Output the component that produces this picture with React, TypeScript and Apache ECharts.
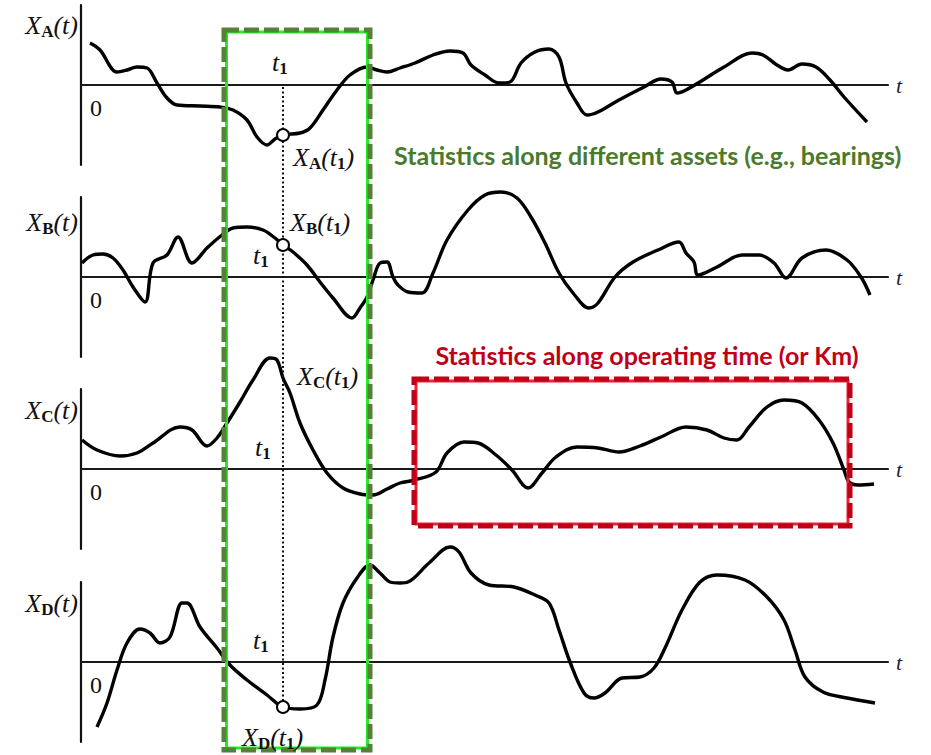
import React, { useEffect, useRef } from "react";
import * as echarts from "echarts";

// ---------- data (t in arbitrary time units, X in arbitrary amplitude units) ----------
const T_MAX = 80.7;
const T1 = 20.2;
const panelLetters = ["A", "B", "C", "D"];

const curveA: [number, number][] = [
  [0.9, 4.2], [1.9, 3.5], [3.6, 1.3], [4.6, 1.5], [5.6, 1.8], [6.6, 1.7], [7.6, 0.2], [8.6, -1.3],
  [9.6, -2.0], [11.9, -2.1], [13.9, -2.2], [15.2, -2.5], [16.6, -3.5], [17.6, -5.2], [18.6, -6.0],
  [19.4, -5.4], [20.2, -5.0], [21.9, -4.8], [22.9, -4.3], [24.2, -2.5], [25.6, -0.5], [26.9, 1.0],
  [28.6, 1.8], [29.6, 1.5], [30.6, 1.3], [31.9, 1.7], [33.4, 2.2], [35.2, 3.0], [36.9, 3.4],
  [38.2, 3.2], [39.0, 2.0], [40.4, 1.0], [41.8, 0.2], [42.9, 0.3], [44.0, 2.2], [45.4, 3.3],
  [46.8, 3.6], [47.8, 2.8], [48.5, 0.2], [49.6, -1.8], [50.6, -3.0], [51.7, -2.7], [53.8, -1.5],
  [56.3, -0.2], [58.0, 0.6], [59.1, 0.3], [59.6, -0.8], [60.5, -0.5], [62.2, 0.5], [64.3, 1.8],
  [67.1, 3.2], [68.2, 3.0], [69.6, 2.0], [70.7, 1.5], [72.1, 2.1], [73.5, 1.8], [74.9, 0.5],
  [76.3, -1.2], [78.6, -3.7],
];

const curveB: [number, number][] = [
  [0.1, 1.4], [1.2, 2.2], [2.2, 2.3], [3.2, 1.9], [4.2, 0.7], [5.2, -1.0], [6.4, -2.5], [7.2, 1.4],
  [8.6, 2.2], [9.7, 4.0], [11.1, 1.4], [12.6, 2.9], [14.1, 4.2], [15.2, 4.9], [16.6, 5.0],
  [18.2, 4.7], [19.4, 3.9], [20.2, 3.2], [21.2, 2.5], [22.6, 1.2], [23.9, -0.5], [25.2, -2.1],
  [27.1, -4.1], [27.9, -3.1], [28.6, -2.0], [29.2, -0.3], [29.9, 1.4], [30.6, 1.5], [31.2, 0.0],
  [31.7, -0.8], [32.7, -1.5], [34.1, -1.6], [35.2, 0.4], [36.6, 3.7], [38.7, 6.7], [40.4, 8.2],
  [42.0, 8.5], [43.6, 7.9], [45.0, 6.0], [46.4, 3.4], [47.8, 0.4], [49.2, -1.6], [50.8, -3.1],
  [51.7, -2.6], [53.4, 0.0], [55.2, 1.5], [57.7, 2.7], [59.8, 3.5], [60.5, 2.4], [61.3, 1.5],
  [61.7, 0.2], [63.6, 1.0], [66.1, 2.2], [67.8, 2.2], [69.3, 1.4], [70.5, -0.1], [72.1, 1.9],
  [74.5, 2.7], [76.6, 1.7], [78.0, 0.0], [78.9, -1.8],
];

const curveC: [number, number][] = [
  [0.1, 2.9], [1.6, 1.9], [3.9, 1.3], [5.6, 1.6], [7.2, 2.6], [9.9, 4.2], [11.1, 3.9], [12.6, 2.3],
  [13.6, 3.1], [14.6, 4.6], [15.9, 6.7], [17.2, 8.9], [18.9, 11.1], [19.6, 10.9], [20.2, 9.1],
  [20.9, 7.6], [21.9, 4.6], [23.2, 1.9], [24.6, -0.4], [26.2, -1.9], [27.9, -2.5], [29.2, -2.6],
  [30.6, -2.0], [31.9, -1.4], [33.4, -1.1], [35.5, -0.3], [36.6, 1.6], [38.3, 2.7], [39.7, 2.6],
  [41.5, 1.4], [43.1, -0.1], [44.7, -1.9], [46.1, -0.4], [47.5, 1.2], [49.6, 2.2], [51.7, 2.1],
  [53.8, 1.7], [55.9, 2.3], [58.0, 3.2], [60.5, 4.2], [62.6, 3.9], [64.3, 3.1], [65.6, 2.9],
  [66.8, 4.2], [68.6, 6.2], [70.3, 6.9], [72.1, 6.6], [73.8, 4.9], [75.2, 2.6], [76.3, -0.1],
  [76.8, -1.3], [77.7, -1.6], [79.3, -1.5],
];

const curveD: [number, number][] = [
  [1.6, -6.5], [2.6, -4.1], [3.6, -0.8], [4.6, 1.9], [5.9, 3.3], [6.9, 2.9], [7.9, 1.9], [8.9, 2.5],
  [10.1, 5.9], [10.6, 5.9], [11.9, 3.5], [13.6, 1.4], [14.9, -0.3], [16.6, -1.8], [18.6, -3.3],
  [20.2, -4.5], [21.9, -4.7], [23.6, -4.3], [24.4, -1.8], [25.2, 2.5], [26.2, 5.9], [27.6, 8.4],
  [28.9, 9.7], [29.9, 8.9], [30.9, 8.0], [31.9, 7.9], [32.7, 8.0], [34.8, 9.9], [36.9, 11.5],
  [37.8, 11.0], [39.0, 8.9], [40.8, 7.7], [43.3, 7.5], [45.4, 6.7], [46.8, 5.9], [47.8, 3.2],
  [48.9, 0.0], [50.3, -3.1], [51.3, -3.6], [52.4, -3.1], [54.1, -1.6], [55.9, -1.5], [57.3, -0.6],
  [58.4, 1.4], [60.1, 5.2], [61.9, 8.0], [63.6, 8.7], [66.4, 8.2], [68.6, 6.5], [70.3, 4.2],
  [71.4, 1.2], [72.4, -1.5], [74.2, -3.0], [76.6, -3.6], [79.4, -4.1],
];

const curves = [curveA, curveB, curveC, curveD];
const t1Values = [-5.0, 3.2, 9.1, -4.5];

const greenCaption = "Statistics along different assets (e.g., bearings)";
const redCaption = "Statistics along operating time (or Km)";

// ---------- layout ----------
const GRID_LEFT = 81;
const GRID_WIDTH = 807;
const HALF_H = 80;
const axisRowsPx = [85, 277, 469, 662];
const yLabelYs = [25, 222, 410, 603];
const t1LabelPos: [number, number][] = [[272, 62], [253, 255], [255, 447], [253, 640]];
const xt1LabelPos: [number, number][] = [[293, 157], [290, 222], [297, 376], [242, 737]];

const SERIF = "'Liberation Serif', 'DejaVu Serif', serif";
const SANS = "Lato, 'Open Sans', sans-serif";

const rich = {
  i: { fontFamily: SERIF, fontStyle: "italic", fontSize: 26, lineHeight: 30, fill: "#111", color: "#111" },
  b: { fontFamily: SERIF, fontWeight: "bold", fontSize: 17, lineHeight: 17, verticalAlign: "bottom", fill: "#111", color: "#111" },
};

export default function App() {
  const ref = useRef<HTMLDivElement>(null);

  useEffect(() => {
    if (!ref.current) return;
    const chart = echarts.init(ref.current, undefined, { renderer: "svg" });

    const grids = axisRowsPx.map((ay) => ({ left: GRID_LEFT, top: ay - HALF_H, width: GRID_WIDTH, height: HALF_H * 2 }));
    const xAxes = axisRowsPx.map((_, i) => ({
      type: "value",
      gridIndex: i,
      min: 0,
      max: T_MAX,
      axisLine: { show: true, onZero: true, lineStyle: { color: "#1a1a1a", width: 2.2 } },
      axisTick: { show: false },
      axisLabel: { show: false },
      splitLine: { show: false },
      name: "t",
      nameLocation: "end",
      nameGap: 8,
      nameTextStyle: { fontFamily: SERIF, fontStyle: "italic", fontSize: 22, color: "#223" },
    }));
    const yAxes = axisRowsPx.map((_, i) => ({
      type: "value",
      gridIndex: i,
      min: -8,
      max: 8,
      axisLine: { show: true, onZero: false, lineStyle: { color: "#111", width: 2.2 } },
      axisTick: { show: false },
      axisLabel: { show: false },
      splitLine: { show: false },
    }));

    const series: any[] = [];
    curves.forEach((c, i) => {
      series.push({
        type: "line",
        xAxisIndex: i,
        yAxisIndex: i,
        data: c,
        smooth: 0.35,
        symbol: "none",
        clip: false,
        silent: true,
        lineStyle: { color: "#000", width: 3.4 },
        z: 3,
      });
      series.push({
        type: "scatter",
        xAxisIndex: i,
        yAxisIndex: i,
        data: [[T1, t1Values[i]]],
        symbol: "circle",
        symbolSize: 12,
        silent: true,
        itemStyle: { color: "#fff", borderColor: "#000", borderWidth: 2, opacity: 1 },
        z: 6,
      });
    });

    chart.setOption({
      animation: false,
      backgroundColor: "#fff",
      grid: grids,
      xAxis: xAxes,
      yAxis: yAxes,
      series,
    });

    const top = chart.convertToPixel({ gridIndex: 0 }, [T1, 0]) as number[];
    const bottom = chart.convertToPixel({ gridIndex: 3 }, [T1, t1Values[3]]) as number[];

    const graphics: any[] = [];
    graphics.push({
      type: "line",
      shape: { x1: top[0], y1: top[1] + 2, x2: top[0], y2: bottom[1] - 6 },
      style: { stroke: "#111", lineWidth: 2, lineDash: [2, 2.5] },
      z: 4,
    });

    panelLetters.forEach((L, i) => {
      graphics.push({
        type: "text",
        x: 78,
        y: yLabelYs[i],
        style: { text: `{i|X}{b|${L}}{i|(t)}`, rich, align: "right", verticalAlign: "middle" },
        z: 20,
      });
      graphics.push({
        type: "text",
        x: 96,
        y: axisRowsPx[i] + 23,
        style: { text: "0", fontFamily: SERIF, fontSize: 24, fill: "#111", align: "center", verticalAlign: "middle" },
        z: 20,
      });
      graphics.push({
        type: "text",
        x: t1LabelPos[i][0],
        y: t1LabelPos[i][1],
        style: { text: `{i|t}{b|1}`, rich, align: "left", verticalAlign: "middle" },
        z: 20,
      });
      graphics.push({
        type: "text",
        x: xt1LabelPos[i][0],
        y: xt1LabelPos[i][1],
        style: { text: `{i|X}{b|${L}}{i|(t}{b|1}{i|)}`, rich, align: "left", verticalAlign: "middle" },
        z: 20,
      });
    });

    // green box
    graphics.push({
      type: "rect",
      shape: { x: 226.5, y: 32, width: 141, height: 716 },
      style: { fill: "none", stroke: "#22ee22", lineWidth: 3 },
      z: 10,
    });
    graphics.push({
      type: "rect",
      shape: { x: 224, y: 30, width: 146, height: 720 },
      style: { fill: "none", stroke: "#538135", lineWidth: 5, lineDash: [15, 5] },
      z: 11,
    });
    // red box
    graphics.push({
      type: "rect",
      shape: { x: 416, y: 381, width: 432, height: 143 },
      style: { fill: "none", stroke: "#ee2233", lineWidth: 3 },
      z: 10,
    });
    graphics.push({
      type: "rect",
      shape: { x: 414, y: 379, width: 436, height: 147 },
      style: { fill: "none", stroke: "#c00018", lineWidth: 5, lineDash: [15, 5] },
      z: 11,
    });

    graphics.push({
      type: "text",
      x: 394,
      y: 155,
      style: { text: greenCaption, fontFamily: SANS, fontWeight: "bold", fontSize: 25, fill: "#4a7a2c", align: "left", verticalAlign: "middle" },
      z: 20,
    });
    graphics.push({
      type: "text",
      x: 647,
      y: 355,
      style: { text: redCaption, fontFamily: SANS, fontWeight: "bold", fontSize: 25, fill: "#c00018", align: "center", verticalAlign: "middle" },
      z: 20,
    });

    chart.setOption({ graphic: graphics });

    return () => chart.dispose();
  }, []);

  return (
    <div
      ref={ref}
      style={{ position: "fixed", left: 0, top: 0, width: 931, height: 755, background: "#fff" }}
    />
  );
}
